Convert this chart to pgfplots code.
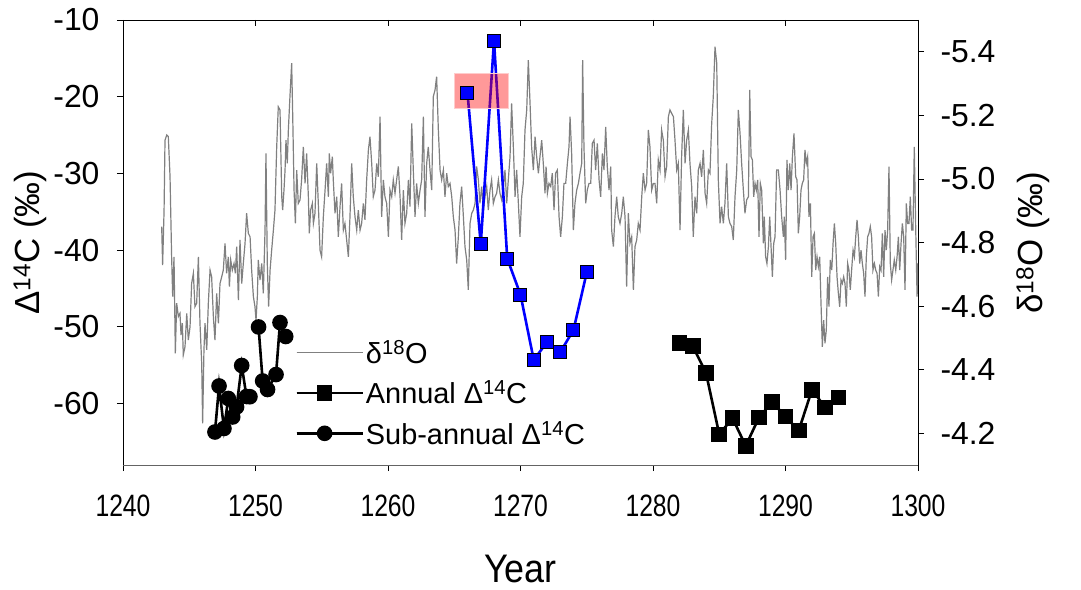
\documentclass[border=0pt]{standalone}
\usepackage{fontspec}
\setmainfont{Liberation Sans}
\newfontfamily\narrowfont[FakeStretch=0.8]{Liberation Sans}
\newfontfamily\yearfont[FakeStretch=0.9]{Liberation Sans}
\usepackage{pgfplots}
\pgfplotsset{compat=1.18}
\usepackage{pgfplotstable}
\definecolor{dgray}{RGB}{128,128,128}
\definecolor{spinegray}{RGB}{100,100,100}

\pgfplotstableread{
yr d
1242.92 -4.850
1242.99 -4.729
1243.10 -4.902
1243.17 -5.122
1243.30 -5.138
1243.42 -5.133
1243.55 -5.007
1243.67 -4.755
1243.75 -4.630
1243.85 -4.755
1243.95 -4.451
1244.05 -4.609
1244.18 -4.567
1244.30 -4.577
1244.38 -4.509
1244.48 -4.546
1244.55 -4.446
1244.68 -4.472
1244.81 -4.577
1244.93 -4.493
1245.06 -4.535
1245.18 -4.671
1245.31 -4.703
1245.43 -4.598
1245.56 -4.609
1245.69 -4.755
1245.81 -4.546
1245.94 -4.420
1246.01 -4.231
1246.11 -4.462
1246.19 -4.546
1246.32 -4.462
1246.44 -4.609
1246.57 -4.713
1246.69 -4.692
1246.82 -4.567
1246.94 -4.493
1247.07 -4.640
1247.20 -4.546
1247.32 -4.671
1247.45 -4.692
1247.57 -4.713
1247.70 -4.797
1247.82 -4.703
1247.95 -4.755
1248.03 -4.661
1248.13 -4.745
1248.25 -4.713
1248.38 -4.734
1248.48 -4.703
1248.58 -4.787
1248.71 -4.619
1248.83 -4.808
1248.96 -4.671
1249.08 -4.734
1249.21 -4.797
1249.33 -4.892
1249.46 -4.829
1249.59 -4.818
1249.71 -4.713
1249.84 -4.630
1249.96 -4.598
1250.04 -4.556
1250.14 -4.630
1250.21 -4.745
1250.34 -4.682
1250.47 -4.734
1250.59 -4.640
1250.72 -4.839
1250.79 -5.080
1250.89 -4.734
1250.99 -4.598
1251.10 -4.713
1251.22 -4.776
1251.35 -4.839
1251.47 -4.902
1251.60 -5.101
1251.72 -5.227
1251.85 -5.217
1251.98 -4.944
1252.05 -4.902
1252.15 -4.965
1252.23 -5.028
1252.30 -5.122
1252.40 -5.049
1252.48 -5.154
1252.60 -5.259
1252.73 -5.364
1252.81 -5.196
1252.91 -4.965
1253.01 -4.860
1253.11 -5.028
1253.23 -4.923
1253.36 -4.934
1253.48 -4.997
1253.61 -5.101
1253.74 -4.986
1253.86 -5.080
1253.99 -4.944
1254.06 -4.829
1254.16 -4.902
1254.29 -4.923
1254.37 -4.860
1254.49 -4.892
1254.62 -5.049
1254.74 -4.923
1254.87 -4.776
1254.99 -4.755
1255.12 -4.881
1255.25 -4.965
1255.37 -5.049
1255.50 -4.944
1255.57 -5.080
1255.67 -5.018
1255.80 -5.070
1255.87 -4.997
1256.00 -4.892
1256.13 -4.944
1256.25 -4.818
1256.38 -4.913
1256.50 -4.986
1256.63 -4.839
1256.75 -4.860
1256.88 -4.808
1257.01 -4.755
1257.13 -4.881
1257.26 -5.049
1257.38 -4.944
1257.51 -4.881
1257.64 -4.839
1257.76 -4.902
1257.89 -4.839
1258.01 -4.860
1258.14 -4.923
1258.26 -4.871
1258.39 -4.997
1258.52 -5.091
1258.64 -5.133
1258.77 -5.049
1258.89 -4.944
1259.02 -4.965
1259.15 -5.049
1259.27 -5.007
1259.40 -5.196
1259.52 -4.881
1259.65 -4.997
1259.77 -4.944
1259.90 -4.923
1260.03 -4.818
1260.15 -4.965
1260.28 -4.944
1260.40 -4.997
1260.53 -4.955
1260.65 -4.997
1260.78 -5.039
1260.91 -4.944
1261.03 -4.808
1261.16 -4.965
1261.28 -4.860
1261.41 -4.892
1261.54 -4.997
1261.66 -4.913
1261.79 -5.175
1261.91 -5.028
1262.04 -4.881
1262.16 -4.986
1262.29 -4.923
1262.42 -4.965
1262.54 -4.997
1262.67 -5.196
1262.79 -4.881
1262.92 -5.049
1263.04 -5.101
1263.17 -5.028
1263.30 -4.965
1263.42 -5.259
1263.55 -5.280
1263.67 -5.322
1263.80 -5.154
1263.93 -5.028
1264.05 -4.997
1264.18 -5.028
1264.30 -4.944
1264.43 -5.018
1264.55 -4.976
1264.68 -4.986
1264.81 -4.944
1264.93 -4.881
1265.06 -4.839
1265.18 -4.734
1265.31 -4.818
1265.43 -4.923
1265.56 -4.976
1265.69 -4.881
1265.81 -4.787
1265.94 -4.745
1266.06 -4.651
1266.19 -4.860
1266.32 -4.892
1266.44 -4.902
1266.57 -4.923
1266.69 -5.039
1266.82 -4.997
1266.94 -4.923
1267.07 -4.976
1267.20 -4.902
1267.32 -4.944
1267.45 -4.976
1267.57 -4.902
1267.70 -4.965
1267.82 -4.997
1267.95 -4.923
1268.08 -4.944
1268.20 -4.955
1268.33 -4.997
1268.45 -4.955
1268.58 -4.934
1268.71 -4.976
1268.83 -5.028
1268.96 -4.923
1269.08 -4.997
1269.21 -5.070
1269.33 -5.238
1269.46 -5.101
1269.59 -4.944
1269.71 -5.028
1269.84 -4.923
1269.96 -4.818
1270.09 -4.944
1270.21 -4.986
1270.34 -5.154
1270.47 -5.217
1270.59 -5.374
1270.72 -5.238
1270.84 -5.101
1270.97 -5.028
1271.10 -5.133
1271.22 -5.070
1271.35 -5.018
1271.47 -5.070
1271.60 -5.122
1271.72 -5.049
1271.85 -4.955
1271.93 -5.039
1272.03 -4.955
1272.15 -4.986
1272.28 -4.976
1272.40 -5.018
1272.53 -4.902
1272.65 -5.018
1272.78 -5.028
1272.91 -4.881
1273.03 -4.818
1273.16 -4.881
1273.28 -4.986
1273.41 -4.986
1273.54 -5.049
1273.66 -5.101
1273.74 -5.196
1273.86 -5.080
1273.99 -4.839
1274.11 -4.923
1274.24 -4.965
1274.37 -4.986
1274.49 -5.018
1274.62 -5.049
1274.69 -5.374
1274.79 -5.101
1274.92 -4.923
1275.04 -4.965
1275.17 -4.986
1275.30 -4.986
1275.42 -5.112
1275.55 -5.122
1275.67 -5.028
1275.80 -5.112
1275.93 -4.997
1276.05 -4.944
1276.18 -5.080
1276.30 -5.028
1276.43 -5.164
1276.55 -5.039
1276.68 -4.965
1276.81 -5.039
1276.88 -4.839
1277.01 -4.787
1277.13 -4.881
1277.26 -4.944
1277.38 -4.881
1277.51 -4.860
1277.64 -4.892
1277.76 -4.944
1277.89 -4.881
1278.01 -4.661
1278.14 -4.892
1278.26 -4.797
1278.39 -4.818
1278.52 -4.651
1278.64 -4.787
1278.77 -4.808
1278.89 -4.860
1279.02 -4.839
1279.15 -4.944
1279.27 -5.018
1279.40 -4.965
1279.52 -4.986
1279.65 -5.154
1279.77 -5.101
1279.90 -4.965
1280.03 -4.986
1280.15 -4.986
1280.28 -4.923
1280.40 -5.060
1280.53 -5.028
1280.65 -5.154
1280.78 -5.122
1280.91 -5.007
1281.03 -5.039
1281.16 -5.196
1281.28 -5.217
1281.41 -5.206
1281.54 -5.196
1281.66 -5.122
1281.79 -5.028
1281.91 -5.049
1282.04 -4.839
1282.16 -5.070
1282.29 -5.217
1282.42 -5.049
1282.54 -5.122
1282.67 -5.154
1282.79 -5.049
1282.92 -4.976
1283.04 -4.818
1283.17 -4.944
1283.30 -4.892
1283.42 -5.028
1283.55 -5.049
1283.67 -5.007
1283.80 -5.091
1283.93 -4.955
1284.05 -4.923
1284.18 -5.028
1284.30 -5.018
1284.43 -5.175
1284.55 -5.259
1284.68 -5.416
1284.81 -5.364
1284.93 -4.997
1285.06 -4.860
1285.18 -4.913
1285.31 -4.860
1285.43 -4.923
1285.56 -5.049
1285.69 -4.881
1285.81 -4.860
1285.94 -4.850
1286.06 -4.808
1286.19 -4.944
1286.32 -5.028
1286.44 -5.217
1286.57 -5.143
1286.69 -5.049
1286.82 -4.965
1286.94 -4.892
1287.07 -4.934
1287.20 -4.944
1287.30 -5.280
1287.40 -5.070
1287.50 -5.060
1287.60 -4.944
1287.70 -4.986
1287.80 -4.965
1287.90 -4.997
1288.00 -4.818
1288.10 -4.986
1288.20 -4.965
1288.33 -4.797
1288.40 -4.881
1288.50 -4.755
1288.60 -4.734
1288.71 -4.787
1288.81 -4.881
1288.91 -4.787
1289.01 -4.692
1289.11 -4.797
1289.21 -4.818
1289.33 -5.028
1289.46 -5.028
1289.59 -4.965
1289.71 -4.881
1289.84 -4.818
1289.91 -4.881
1290.01 -4.745
1290.11 -5.060
1290.21 -4.965
1290.32 -5.049
1290.42 -4.965
1290.52 -5.070
1290.64 -5.143
1290.77 -5.007
1290.87 -4.997
1290.97 -4.829
1291.07 -4.881
1291.17 -4.965
1291.27 -4.986
1291.37 -4.997
1291.47 -5.091
1291.57 -5.049
1291.67 -5.070
1291.77 -4.881
1291.88 -4.923
1291.98 -4.692
1292.08 -4.818
1292.18 -4.829
1292.28 -4.713
1292.38 -4.755
1292.48 -4.724
1292.58 -4.755
1292.68 -4.609
1292.78 -4.472
1292.88 -4.556
1292.98 -4.483
1293.08 -4.525
1293.18 -4.692
1293.28 -4.598
1293.38 -4.745
1293.49 -4.713
1293.59 -4.797
1293.69 -4.860
1293.79 -4.797
1293.89 -4.692
1293.99 -4.640
1294.09 -4.598
1294.19 -4.682
1294.29 -4.671
1294.39 -4.692
1294.49 -4.671
1294.59 -4.598
1294.69 -4.734
1294.79 -4.713
1294.89 -4.651
1294.99 -4.713
1295.10 -4.776
1295.20 -4.755
1295.30 -4.818
1295.40 -4.871
1295.50 -4.818
1295.60 -4.734
1295.70 -4.776
1295.80 -4.734
1295.90 -4.703
1296.00 -4.630
1296.10 -4.755
1296.20 -4.818
1296.30 -4.829
1296.40 -4.850
1296.50 -4.818
1296.60 -4.713
1296.71 -4.734
1296.81 -4.713
1296.91 -4.703
1297.01 -4.630
1297.11 -4.724
1297.21 -4.713
1297.31 -4.829
1297.41 -4.692
1297.51 -4.839
1297.61 -4.776
1297.71 -4.839
1297.81 -5.039
1297.91 -4.734
1298.01 -4.682
1298.11 -4.713
1298.21 -4.745
1298.32 -4.713
1298.42 -4.755
1298.52 -4.818
1298.62 -4.713
1298.72 -4.797
1298.82 -4.860
1298.92 -4.818
1299.02 -4.651
1299.12 -4.923
1299.22 -4.860
1299.32 -4.860
1299.42 -4.944
1299.52 -4.839
1299.62 -4.839
1299.72 -5.101
1299.82 -4.860
1299.93 -4.630
1300.00 -4.734
}\dOxy

\pgfplotsset{
  every axis/.append style={
    scale only axis, width=795bp, height=445bp,
    xmin=1240, xmax=1300,
    /pgf/number format/assume math mode=true,
    /pgf/number format/1000 sep={},
    yticklabel style={font=\fontsize{32}{36}\selectfont},
    xticklabel style={font=\narrowfont\fontsize{31}{36}\selectfont, yshift=-20bp},
    label style={font=\fontsize{35}{40}\selectfont},
    major tick length=6bp,
    tick style={black, line width=0.8bp},
    axis line style={line width=0.9bp},
  }
}

\begin{document}
\begin{tikzpicture}
\path[use as bounding box] (-123bp,-125bp) rectangle (958bp,465bp);

% right axis: d18O
\begin{axis}[
  ymin=-5.5, ymax=-4.1, y dir=reverse,
  axis x line=none, axis y line*=right,
  ytick={-5.4,-5.2,-5.0,-4.8,-4.6,-4.4,-4.2},
  yticklabel style={/pgf/number format/fixed, /pgf/number format/precision=1, /pgf/number format/fixed zerofill, xshift=13bp},
  tick align=outside,
  ylabel={δ\textsuperscript{18}O (‰)},
  ylabel style={yshift=-14bp},
]
\addplot[dgray, line width=1.2bp] table[x=yr, y=d] {\dOxy};
\end{axis}

% top ticks inside
\begin{axis}[
  ymin=0, ymax=1,
  axis x line*=top, axis y line=none,
  xtick={1240,1250,...,1300}, xticklabels={},
  tick align=inside,
]
\end{axis}

% left axis: D14C
\begin{axis}[
  ymin=-68, ymax=-10,
  axis x line*=bottom, axis y line*=left,
  x axis line style={draw=spinegray},
  xtick={1240,1250,...,1300},
  ytick={-60,-50,-40,-30,-20,-10},
  yticklabel style={xshift=-14bp},
  tick align=outside,
  xlabel={Year},
  xlabel style={font=\yearfont\fontsize{40}{44}\selectfont, yshift=-32bp},
  ylabel={Δ\textsuperscript{14}C (‰)},
  legend style={at={(0.214,0.29)}, anchor=north west, draw=none, fill=none,
    font=\fontsize{29}{33}\selectfont, row sep=12bp, inner xsep=2bp},
  legend cell align=left,
  legend image code/.code={\draw[mark repeat=2,mark phase=2] plot coordinates {(0bp,0bp) (28bp,0bp) (56bp,0bp)}; \path (0bp,0bp) -- (66bp,0bp);},
]
\addlegendimage{dgray, line width=1.2bp}
\addlegendentry{δ\textsuperscript{18}O}

\addplot[forget plot, blue, line width=2.6bp, mark=square*, mark size=6.5bp,
  mark options={fill=blue, draw=black, line width=1bp}] coordinates {
(1266,-19.5) (1267,-39.2) (1268,-12.7) (1269,-41.1) (1270,-45.8)
(1271,-54.3) (1272,-52.0) (1273,-53.3) (1274,-50.4) (1275,-42.9)
};

\addplot[forget plot, draw=red!20, line width=1bp, fill=red, fill opacity=0.4]
  coordinates {(1265,-17) (1269.1,-17) (1269.1,-21.6) (1265,-21.6)} -- cycle;

\addplot[black, line width=2.6bp, mark=square*, mark size=6.5bp] coordinates {
(1282,-52.1) (1283,-52.5) (1284,-56.0) (1285,-64.0) (1286,-61.9) (1287,-65.5)
(1288,-61.8) (1289,-59.8) (1290,-61.7) (1291,-63.5) (1292,-58.2) (1293,-60.5) (1294,-59.2)
};
\addlegendentry{Annual Δ\textsuperscript{14}C}

\addplot[black, line width=2.6bp, mark=*, mark size=6.5bp] coordinates {
(1246.94,-63.70) (1247.25,-57.70) (1247.62,-63.24) (1247.95,-59.33) (1248.28,-61.74)
(1248.57,-60.44) (1248.96,-55.03) (1249.32,-59.07) (1249.58,-59.10)
};
\addlegendentry{Sub-annual Δ\textsuperscript{14}C}

\addplot[forget plot, black, line width=2.6bp, mark=*, mark size=6.5bp] coordinates {
(1250.23,-50.01) (1250.54,-57.05) (1250.91,-58.16) (1251.55,-56.21) (1251.85,-49.43) (1252.28,-51.25)
};
\end{axis}
\end{tikzpicture}
\end{document}
